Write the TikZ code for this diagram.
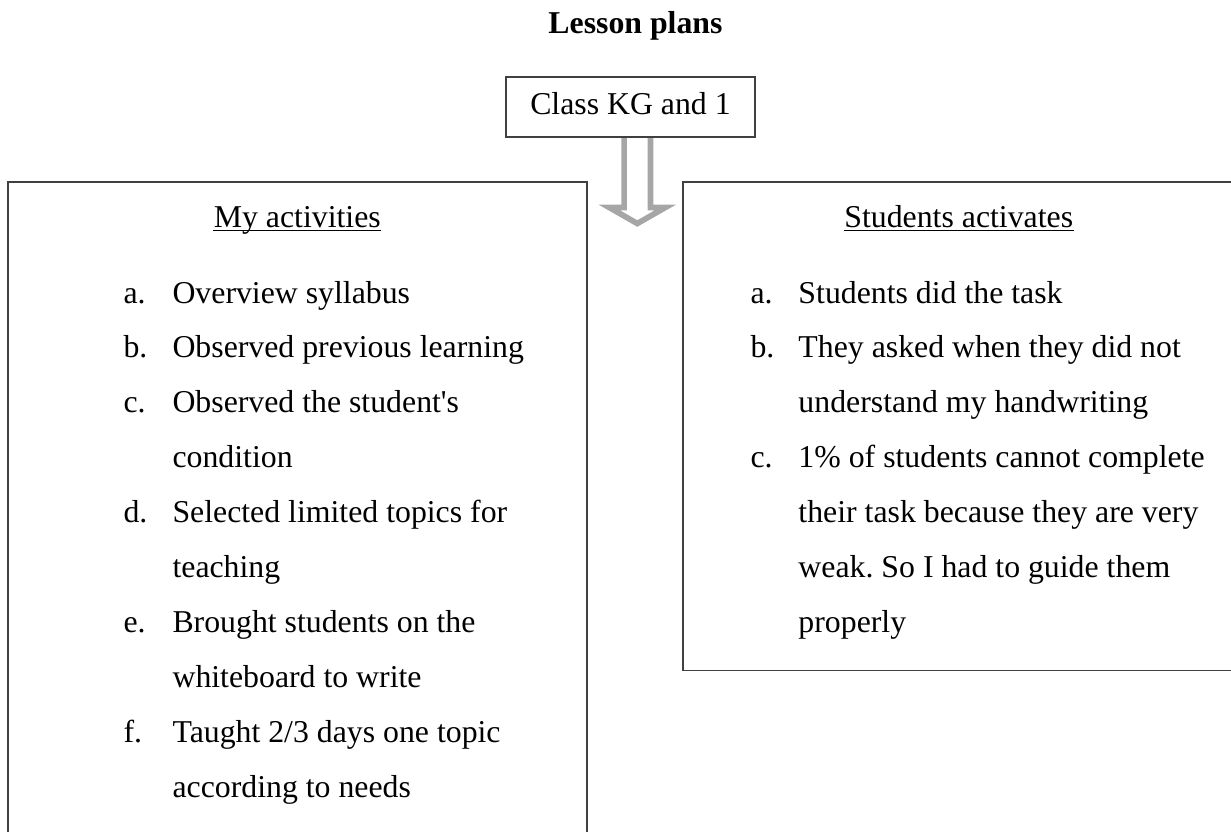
\documentclass[tikz,border=0pt]{standalone}
\usepackage{fontspec}
\setmainfont{Liberation Serif}
\usetikzlibrary{positioning,calc,backgrounds}
\definecolor{boxline}{RGB}{64,64,64}
\definecolor{arrowgray}{RGB}{166,166,166}
\frenchspacing

\begin{document}
\begin{tikzpicture}[x=0.3774pt,y=-0.3774pt,
    every node/.style={font=\fontsize{12}{20.75}\selectfont,inner sep=0pt},
    panel/.style={draw=boxline,line width=0.6pt,fill=white},
    heading/.style={anchor=base},
    itemlist/.style={anchor=base west}]
    \useasboundingbox (0,0) rectangle (1231,832);
    \clip (0,0) rectangle (1231,832);

    \node[font=\fontsize{12}{20.75}\selectfont\bfseries,anchor=base] (title) at (635.5,33) {Lesson plans};
    \node[panel,minimum width=94pt,minimum height=22.6pt,text height=8.5pt,text depth=2.5pt] (class) at (630.5,107) {Class KG and 1};

    % the two panels
    \node[panel,anchor=north west,minimum width=218.5pt,minimum height=252.5pt] (myact) at (7,181) {};
    \node[panel,anchor=north west,minimum width=208.3pt,minimum height=184.5pt] (studact) at (682,181) {};

    \node[heading] (myhead) at ($(myact.north)+(0,46)$) {My activities};
    \node[heading] (studhead) at ($(studact.north)+(0,46)$) {Students activates};
    \draw[line width=0.7pt] ([yshift=-1.3pt]myhead.base west) -- ([yshift=-1.3pt]myhead.base east);
    \draw[line width=0.7pt] ([yshift=-1.3pt]studhead.base west) -- ([yshift=-1.3pt]studhead.base east);

    \node[itemlist] (mylist) at (123,303) {\begin{tabular}[t]{@{}p{18.5pt}@{}l@{}}
        a. & Overview syllabus\\
        b. & Observed previous learning\\
        c. & Observed the student\textquotesingle s\\
           & condition\\
        d. & Selected limited topics for\\
           & teaching\\
        e. & Brought students on the\\
           & whiteboard to write\\
        f. & Taught 2/3 days one topic\\
           & according to needs
    \end{tabular}};
    \node[itemlist] (studlist) at (750,303) {\begin{tabular}[t]{@{}p{18.1pt}@{}l@{}}
        a. & Students did the task\\
        b. & They asked when they did not\\
           & understand my handwriting\\
        c. & 1\% of students cannot complete\\
           & their task because they are very\\
           & weak. So I had to guide them\\
           & properly
    \end{tabular}};

    % hollow arrow below the class box
    \coordinate (tip) at (637.3,223.5);
    \coordinate (stem) at (class.south -| tip);
    \begin{scope}[on background layer]
        \draw[arrowgray,line width=2.15pt,line join=miter]
            ($(stem)+(-13.2,-4)$) -- ($(tip)+(-13.2,-16)$) -- ($(tip)+(-28,-16)$) -- (tip)
            -- ($(tip)+(28,-16)$) -- ($(tip)+(13.2,-16)$) -- ($(stem)+(13.2,-4)$);
    \end{scope}
\end{tikzpicture}
\end{document}
